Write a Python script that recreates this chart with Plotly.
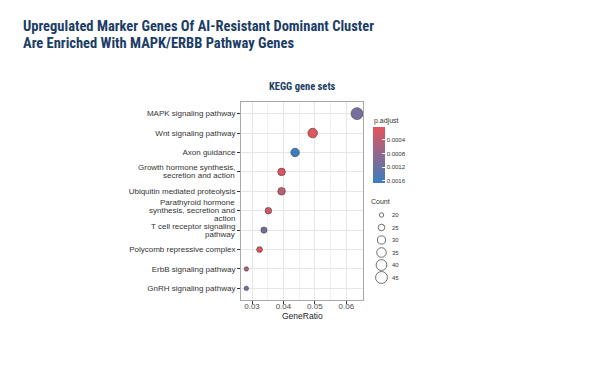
import math
import plotly.graph_objects as go

# ---------------- data ----------------
pathways = [
    "MAPK signaling pathway",
    "Wnt signaling pathway",
    "Axon guidance",
    "Growth hormone synthesis,<br>secretion and action",
    "Ubiquitin mediated proteolysis",
    "Parathyroid hormone<br>synthesis, secretion and<br>action",
    "T cell receptor signaling<br>pathway",
    "Polycomb repressive complex",
    "ErbB signaling pathway",
    "GnRH signaling pathway",
]
gene_ratio = [0.0634, 0.0493, 0.0437, 0.0394, 0.0394, 0.0352, 0.0338, 0.0324, 0.0282, 0.0282]
counts = [45, 35, 31, 28, 28, 25, 24, 23, 20, 20]
p_adjust = [0.00110, 0.000025, 0.00168, 0.00005, 0.00036, 0.00018, 0.00110, 0.00004, 0.00040, 0.00115]

x_ticks = [0.03, 0.04, 0.05, 0.06]
color_ticks = [0.0004, 0.0008, 0.0012, 0.0016]
count_breaks = [20, 25, 30, 35, 40, 45]

# ---------------- styling helpers ----------------
OFF = 8  # page body margin
W, H = 600 - OFF, 365 - OFF
RED, BLUE = "#E4545C", "#3A7DC1"
NAVY = "#1B3D66"
TITLE_FONT = "Liberation Sans Narrow, Roboto Condensed, Arial Narrow, sans-serif"
BODY_FONT = "Liberation Sans, Arial, Helvetica, sans-serif"
LABEL_LINE = 8.0

cmin_c, cmax_c = min(counts), max(counts)
D_MIN, D_MAX = 5.0, 12.5


def diam(c):
    t = (c - cmin_c) / (cmax_c - cmin_c)
    return math.sqrt(D_MIN ** 2 + t * (D_MAX ** 2 - D_MIN ** 2)) - 0.6


def px_x(p):
    return (p - OFF) / W


def px_y(p):
    return 1 - (p - OFF) / H


minor_vals = [v + 0.005 for v in x_ticks]

fig = go.Figure()

fig.add_trace(go.Scatter(
    x=gene_ratio, y=pathways, mode="markers",
    marker=dict(size=[diam(c) for c in counts],
                color=[-p for p in p_adjust],
                coloraxis="coloraxis", opacity=1,
                line=dict(color="#3a3a3a", width=0.6)),
    cliponaxis=False, hoverinfo="x+y",
))

fig.add_trace(go.Scatter(
    x=[0] * len(count_breaks), y=count_breaks, mode="markers",
    xaxis="x2", yaxis="y2",
    marker=dict(size=[diam(c) for c in count_breaks], color="white", opacity=1,
                line=dict(color="#333333", width=0.7)),
    cliponaxis=False, hoverinfo="skip",
))

fig.update_layout(
    width=W, height=H,
    margin=dict(l=0, r=0, t=0, b=0),
    paper_bgcolor="white", plot_bgcolor="white",
    showlegend=False,
    font=dict(family=BODY_FONT, color="#333333"),
    xaxis=dict(
        domain=[px_x(241), px_x(363)], range=[0.0265, 0.0653],
        tickvals=x_ticks, ticktext=[f"{v:.2f}" for v in x_ticks],
        ticks="outside", ticklen=3, tickwidth=0.6, tickcolor="#333333",
        tickfont=dict(size=8, color="#4d4d4d"), ticklabelstandoff=-5,
        showgrid=True, gridcolor="#e6e6e6", gridwidth=0.8,
        minor=dict(tickvals=minor_vals, showgrid=True, gridcolor="#f0f0f0", gridwidth=0.5),
        showline=True, mirror=True, linecolor="#a8a8a8", linewidth=1,
        zeroline=False, anchor="y", automargin=False,
    ),
    yaxis=dict(
        domain=[px_y(300), px_y(102)],
        type="category", categoryorder="array", categoryarray=pathways[::-1],
        range=[-0.6, len(pathways) - 0.4],
        tickvals=pathways,
        ticktext=[p if "<br>" not in p else "" for p in pathways],
        ticks="outside", ticklen=3, tickwidth=0.6, tickcolor="#333333",
        tickfont=dict(size=8, color="#333333"),
        showgrid=True, gridcolor="#e6e6e6", gridwidth=0.8,
        showline=True, mirror=True, linecolor="#a8a8a8", linewidth=1,
        zeroline=False, anchor="x", automargin=False,
    ),
    xaxis2=dict(domain=[px_x(375), px_x(388)], range=[-1, 1], visible=False,
                anchor="y2", fixedrange=True),
    yaxis2=dict(domain=[px_y(277.5), px_y(215)], range=[max(count_breaks), min(count_breaks)],
                anchor="x2", side="right", tickvals=count_breaks,
                ticktext=[str(v) for v in count_breaks],
                tickfont=dict(size=6, color="#333333"), ticks="",
                showgrid=False, zeroline=False, showline=False, automargin=False,
                ticklabelstandoff=3, fixedrange=True),
    coloraxis=dict(
        colorscale=[[0, BLUE], [1, RED]],
        cmin=-max(p_adjust), cmax=-min(p_adjust),
        colorbar=dict(
            x=px_x(373.3), xanchor="left", y=px_y(155.3), yanchor="middle",
            lenmode="pixels", len=56, thicknessmode="pixels", thickness=12,
            outlinewidth=0, xpad=0, ypad=0,
            tickvals=[-v for v in color_ticks], ticktext=[f"{v:.4f}" for v in color_ticks],
            ticks="inside", ticklen=3, tickwidth=1, tickcolor="white",
            tickfont=dict(size=6, color="#333333"),
        ),
    ),
)

annotations = [
    dict(text="<b>Upregulated Marker Genes Of AI-Resistant Dominant Cluster</b>",
         x=px_x(22), y=px_y(17), xanchor="left", yanchor="top",
         font=dict(family=TITLE_FONT, size=14.5, color=NAVY)),
    dict(text="<b>Are Enriched With MAPK/ERBB Pathway Genes</b>",
         x=px_x(22), y=px_y(34), xanchor="left", yanchor="top",
         font=dict(family=TITLE_FONT, size=14.5, color=NAVY)),
    dict(text="<b>KEGG gene sets</b>", x=px_x(302), y=px_y(86),
         xanchor="center", yanchor="middle",
         font=dict(family=TITLE_FONT, size=10.5, color=NAVY)),
    dict(text="GeneRatio", x=px_x(302), y=px_y(316), xanchor="center", yanchor="middle",
         font=dict(size=8.5, color="#222222")),
    dict(text="p.adjust", x=px_x(373), y=px_y(121), xanchor="left", yanchor="middle",
         font=dict(size=7, color="#333333")),
    dict(text="Count", x=px_x(370), y=px_y(201), xanchor="left", yanchor="middle",
         font=dict(size=7, color="#333333")),
]
for a in annotations:
    a.update(xref="paper", yref="paper")

# multi-line category labels with tighter line spacing
for p in pathways:
    if "<br>" in p:
        lines = p.split("<br>")
        n = len(lines)
        for i, ln in enumerate(lines):
            annotations.append(dict(
                text=ln, xref="paper", yref="y", x=px_x(236), y=p,
                xanchor="right", yanchor="middle",
                yshift=((n - 1) / 2 - i) * LABEL_LINE, align="right",
                font=dict(size=8, color="#333333")))

for a in annotations:
    a.update(showarrow=False, borderpad=0)
fig.update_layout(annotations=annotations)

fig.write_html("out.html")
